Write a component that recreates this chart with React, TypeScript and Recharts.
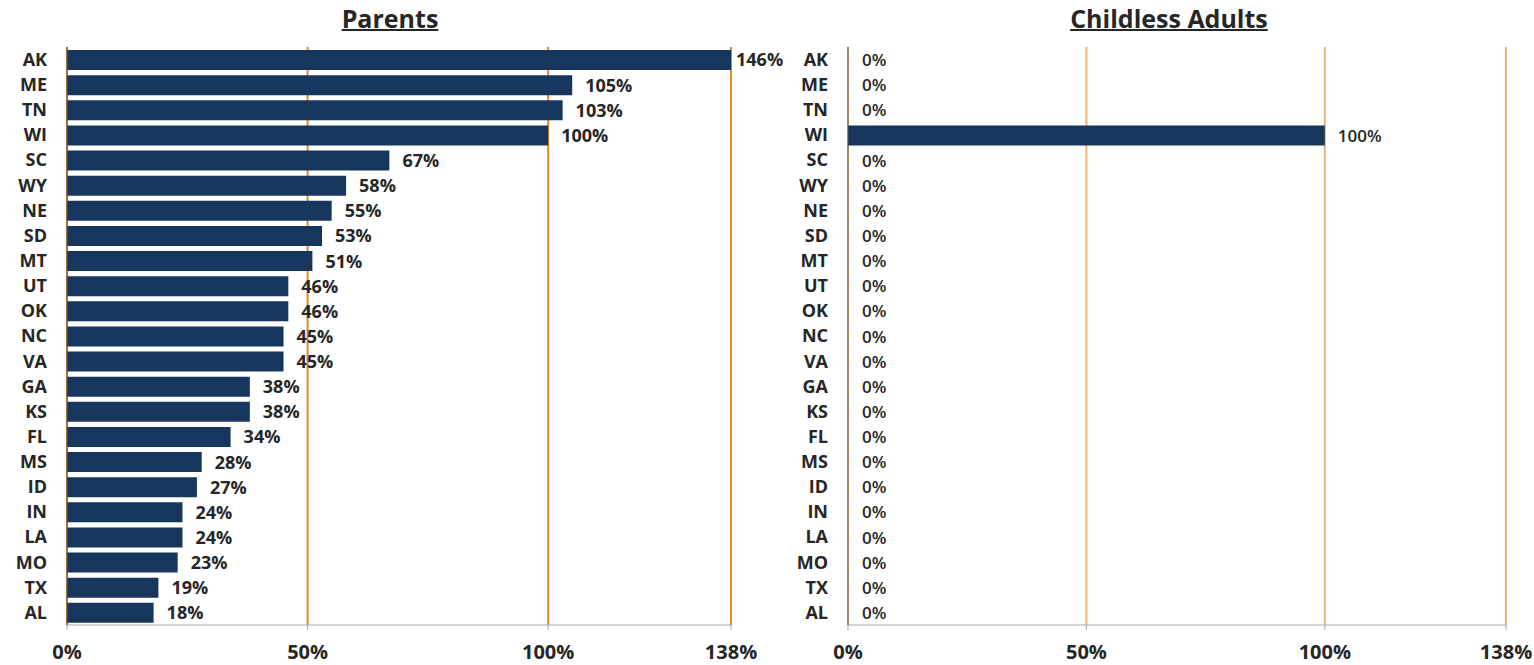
import React from 'react'
import { BarChart, Bar, XAxis, YAxis, CartesianGrid, LabelList, Cell } from 'recharts'

const states = ['AK', 'ME', 'TN', 'WI', 'SC', 'WY', 'NE', 'SD', 'MT', 'UT', 'OK', 'NC', 'VA', 'GA', 'KS', 'FL', 'MS', 'ID', 'IN', 'LA', 'MO', 'TX', 'AL']
const parents = [146, 105, 103, 100, 67, 58, 55, 53, 51, 46, 46, 45, 45, 38, 38, 34, 28, 27, 24, 24, 23, 19, 18]
const childless = [0, 0, 0, 100, 0, 0, 0, 0, 0, 0, 0, 0, 0, 0, 0, 0, 0, 0, 0, 0, 0, 0, 0]
const xTicks = [0, 50, 100, 138]
const xMax = 138

const parentsData = states.map((s, i) => ({ state: s, value: parents[i] }))
const childlessData = states.map((s, i) => ({ state: s, value: childless[i] }))

const FONT = '"Open Sans", sans-serif'
const BAR = '#17365d'
const TEXT = '#262626'

// label sits past the bar end; a bar cut off at the axis max gets its label right at the edge
const makeLabel = (plotRight: number, fontSize: number, weight: number) => (props: any) => {
  const { x, y, width, height, value } = props
  const end = Number(x) + Number(width)
  const lx = value > xMax ? plotRight + 5 : end + 13
  return (
    <text x={lx} y={Number(y) + Number(height) / 2} dy="0.36em" fill={TEXT}
      fontSize={fontSize} fontWeight={weight} fontFamily={FONT}>
      {value}%
    </text>
  )
}

const Panel: React.FC<{ data: any[]; width: number; yWidth: number; marginRight: number; grid: string; labelSize: number; labelWeight: number }> =
  ({ data, width, yWidth, marginRight, grid, labelSize, labelWeight }) => (
    <BarChart layout="vertical" width={width} height={665} data={data}
      margin={{ top: 47, right: marginRight, bottom: 0, left: 0 }} barSize={20}>
      <CartesianGrid horizontal={false} stroke={grid} strokeWidth={2} />
      <XAxis type="number" domain={[0, xMax]} ticks={xTicks} allowDataOverflow height={40}
        tickFormatter={(v) => `${v}%`} stroke="#a6a6a6" tickSize={5} tickMargin={15}
        tick={{ fill: TEXT, fontSize: 20, fontWeight: 700, fontFamily: FONT }} />
      <YAxis type="category" dataKey="state" width={yWidth} stroke="#595959" tickLine={false}
        tickSize={0} tickMargin={20} interval={0}
        tick={{ fill: TEXT, fontSize: 18, fontWeight: 700, fontFamily: FONT }} />
      <Bar dataKey="value" fill={BAR} minPointSize={1} isAnimationActive={false}>
        {data.map((d, i) => <Cell key={i} fill={d.value === 0 ? 'transparent' : BAR} />)}
        <LabelList dataKey="value" content={makeLabel(width - marginRight, labelSize, labelWeight)} />
      </Bar>
    </BarChart>
  )

const titleStyle = (center: number): React.CSSProperties => ({
  position: 'absolute', top: 2, left: center - 150, width: 300, textAlign: 'center',
  fontFamily: FONT, fontSize: 25, fontWeight: 700, lineHeight: '32px', color: TEXT,
  textDecoration: 'underline', textDecorationThickness: 2,
})

export default function App() {
  return (
    <div style={{ position: 'fixed', left: 0, top: 0, width: 1534, height: 665, background: '#fff', overflow: 'hidden' }}>
      <div style={titleStyle(390)}>Parents</div>
      <div style={titleStyle(1169)}>Childless Adults</div>
      <div style={{ position: 'absolute', left: 0, top: 0 }}>
        <Panel data={parentsData} width={790} yWidth={67} marginRight={59} grid="#e6862a" labelSize={18} labelWeight={700} />
      </div>
      <div style={{ position: 'absolute', left: 760, top: 0 }}>
        <Panel data={childlessData} width={774} yWidth={88} marginRight={28} grid="#eeb275" labelSize={17} labelWeight={600} />
      </div>
    </div>
  )
}
